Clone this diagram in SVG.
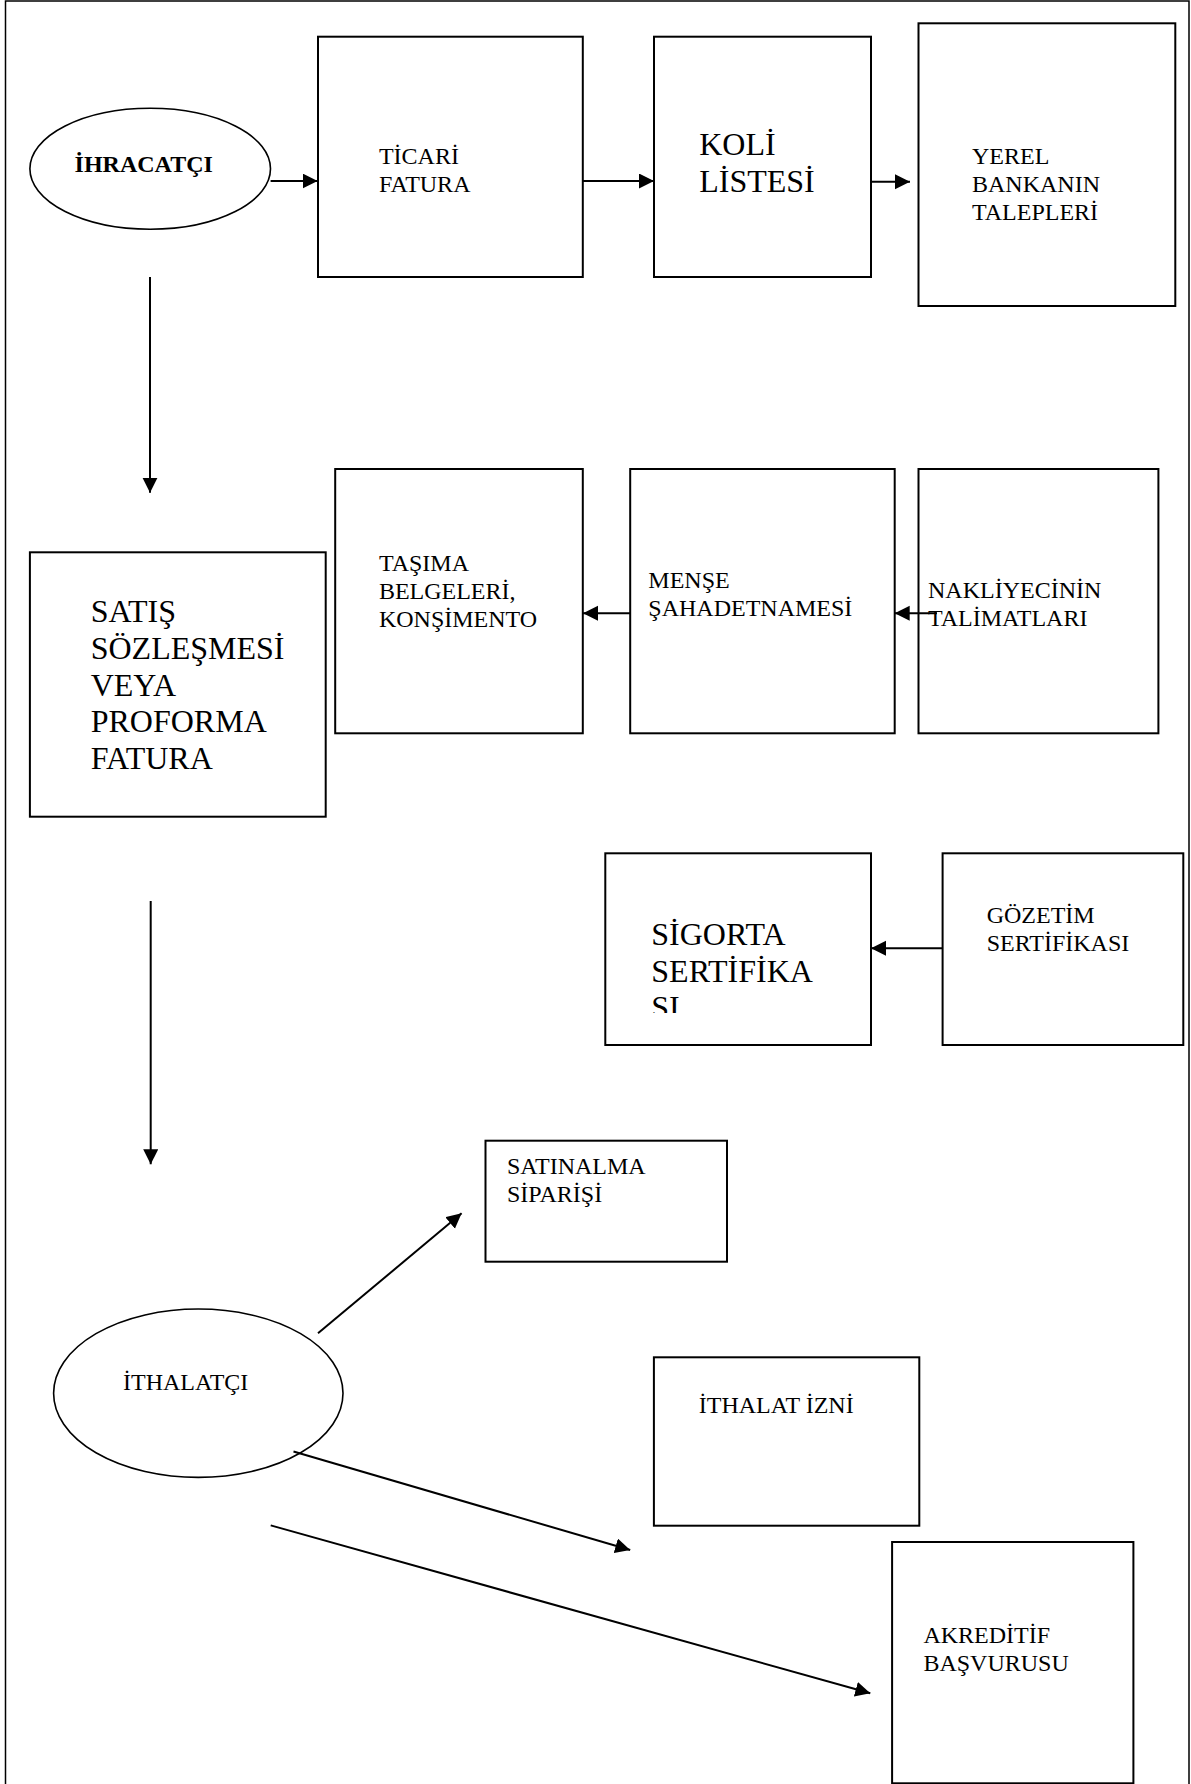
<svg xmlns="http://www.w3.org/2000/svg" width="1191" height="1784" viewBox="0 0 1191 1784">
<style>
.box{fill:#fff;stroke:#000;stroke-width:2}
.ell{fill:#fff;stroke:#000;stroke-width:1.6}
.t{font-family:"Liberation Serif","Times New Roman",serif;font-size:24px;fill:#000}
.tl{font-family:"Liberation Serif","Times New Roman",serif;font-size:32px;fill:#000}
.b{font-weight:bold}
.c{fill:none;stroke:#000;stroke-width:2;marker-end:url(#ah)}
</style>
<defs>
<marker id="ah" markerUnits="userSpaceOnUse" markerWidth="16" markerHeight="16" refX="15" refY="7.5" orient="auto">
<path d="M0,0 L15,7.5 L0,15 Z" fill="#000"/>
</marker>
<clipPath id="sigclip"><rect x="605" y="853" width="266" height="160"/></clipPath>
</defs>
<rect x="0" y="0" width="1191" height="1784" fill="#fff"/>
<path d="M5.5,1800 L5.5,1 L1189,1 L1189,1800" fill="none" stroke="#000" stroke-width="1.5"/>

<g id="ihracatci">
<ellipse class="ell" cx="150.2" cy="168.8" rx="120.3" ry="60.5"/>
<text class="t b" x="74.6" y="172.3">İHRACATÇI</text>
</g>
<g id="ticari-fatura">
<rect class="box" x="318" y="36.7" width="264.8" height="240.3"/>
<text class="t" x="378.9" y="164.3">TİCARİ</text>
<text class="t" x="378.9" y="192.3">FATURA</text>
</g>
<g id="koli-listesi">
<rect class="box" x="654" y="36.7" width="217" height="240.3"/>
<text class="tl" x="699.2" y="155">KOLİ</text>
<text class="tl" x="699.2" y="192.3">LİSTESİ</text>
</g>
<g id="yerel-banka">
<rect class="box" x="918.5" y="23.3" width="256.8" height="282.7"/>
<text class="t" x="972" y="164.3">YEREL</text>
<text class="t" x="972" y="192.3">BANKANIN</text>
<text class="t" x="972" y="220">TALEPLERİ</text>
</g>
<g id="satis-sozlesmesi">
<rect class="box" x="29.9" y="552.3" width="295.8" height="264.4"/>
<text class="tl" x="90.7" y="622.3">SATIŞ</text>
<text class="tl" x="90.7" y="659">SÖZLEŞMESİ</text>
<text class="tl" x="90.7" y="695.7">VEYA</text>
<text class="tl" x="90.7" y="732.3">PROFORMA</text>
<text class="tl" x="90.7" y="769">FATURA</text>
</g>
<g id="tasima-belgeleri">
<rect class="box" x="335.2" y="469" width="247.6" height="264.3"/>
<text class="t" x="378.9" y="570.7">TAŞIMA</text>
<text class="t" x="378.9" y="599">BELGELERİ,</text>
<text class="t" x="378.9" y="626.7">KONŞİMENTO</text>
</g>
<g id="mense">
<rect class="box" x="630.2" y="469" width="264.5" height="264.3"/>
<text class="t" x="648.3" y="587.7">MENŞE</text>
<text class="t" x="648.3" y="616">ŞAHADETNAMESİ</text>
</g>
<g id="nakliyeci">
<rect class="box" x="918.5" y="469" width="239.9" height="264.3"/>
<text class="t" x="928" y="598.3">NAKLİYECİNİN</text>
<text class="t" x="928" y="626">TALİMATLARI</text>
</g>
<g id="sigorta">
<rect class="box" x="605.3" y="853.3" width="265.7" height="191.7"/>
<g clip-path="url(#sigclip)">
<text class="tl" x="651.3" y="945">SİGORTA</text>
<text class="tl" x="651.3" y="981.7">SERTİFİKA</text>
<text class="tl" x="651.3" y="1018.4">SI</text>
</g>
</g>
<g id="gozetim">
<rect class="box" x="942.6" y="853.3" width="240.7" height="191.7"/>
<text class="t" x="986.7" y="923.3">GÖZETİM</text>
<text class="t" x="986.7" y="950.7">SERTİFİKASI</text>
</g>
<g id="satinalma">
<rect class="box" x="485.5" y="1140.7" width="241.5" height="121"/>
<text class="t" x="507" y="1174.3">SATINALMA</text>
<text class="t" x="507" y="1201.7">SİPARİŞİ</text>
</g>
<g id="ithalatci">
<ellipse class="ell" cx="198.3" cy="1393.2" rx="144.7" ry="84.2"/>
<text class="t" x="123" y="1390">İTHALATÇI</text>
</g>
<g id="ithalat-izni">
<rect class="box" x="653.9" y="1357.3" width="265.4" height="168.4"/>
<text class="t" x="698.8" y="1413.3">İTHALAT İZNİ</text>
</g>
<g id="akreditif">
<rect class="box" x="892.1" y="1542" width="241.3" height="241.3"/>
<text class="t" x="923.4" y="1643.3">AKREDİTİF</text>
<text class="t" x="923.4" y="1671">BAŞVURUSU</text>
</g>

<g id="connectors">
<line class="c" x1="270.6" y1="181" x2="317.6" y2="181"/>
<line class="c" x1="582.8" y1="181" x2="654" y2="181"/>
<line class="c" x1="871" y1="181.7" x2="910" y2="181.7"/>
<line class="c" x1="150" y1="277" x2="150" y2="492.7"/>
<line class="c" x1="630.2" y1="613.3" x2="583" y2="613.3"/>
<line class="c" x1="937" y1="613.3" x2="894.7" y2="613.3"/>
<line class="c" x1="942.6" y1="948.3" x2="871" y2="948.3"/>
<line class="c" x1="150.7" y1="901" x2="150.7" y2="1164.3"/>
<line class="c" x1="318" y1="1333.3" x2="461.6" y2="1213.3"/>
<line class="c" x1="293.5" y1="1451.5" x2="630.2" y2="1550"/>
<line class="c" x1="270.7" y1="1525.4" x2="870.3" y2="1693.3"/>
</g>
</svg>
